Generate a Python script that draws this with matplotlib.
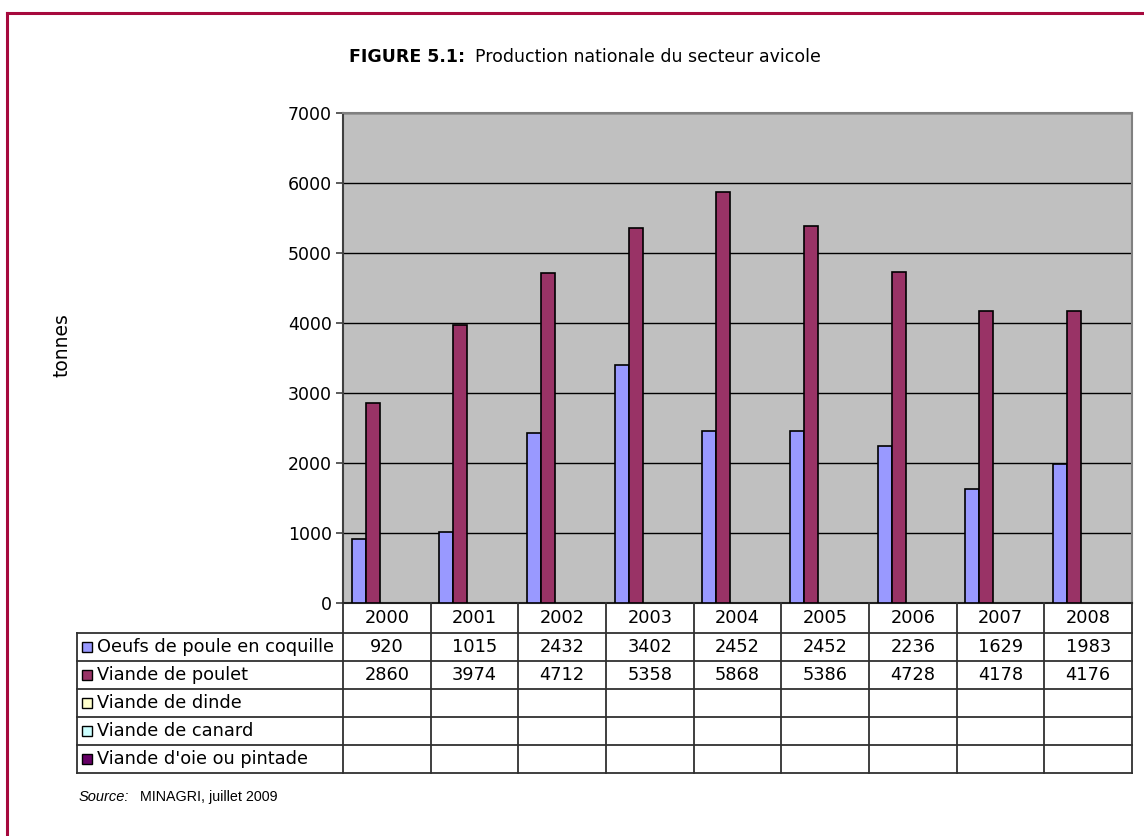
import matplotlib
matplotlib.use("Agg")
import matplotlib.pyplot as plt
from matplotlib.patches import Rectangle
from matplotlib.lines import Line2D
from matplotlib.transforms import blended_transform_factory

# ---- data ----
years = ["2000", "2001", "2002", "2003", "2004", "2005", "2006", "2007", "2008"]
series_names = [
    "Oeufs de poule en coquille",
    "Viande de poulet",
    "Viande de dinde",
    "Viande de canard",
    "Viande d'oie ou pintade",
]
oeufs = [920, 1015, 2432, 3402, 2452, 2452, 2236, 1629, 1983]
poulet = [2860, 3974, 4712, 5358, 5868, 5386, 4728, 4178, 4176]
dinde = [None] * 9
canard = [None] * 9
oie = [None] * 9
series_values = [oeufs, poulet, dinde, canard, oie]
series_colors = ["#9999FF", "#993366", "#FFFFCC", "#CCFFFF", "#660066"]
y_ticks = [0, 1000, 2000, 3000, 4000, 5000, 6000, 7000]

W, H = 1144, 836
fig = plt.figure(figsize=(W / 100, H / 100), dpi=100)
fig.patch.set_facecolor("white")


def fx(x):
    return x / W


def fy(y):
    return 1 - y / H


# frame around the figure (top and left edges)
fig.add_artist(Line2D([fx(7), fx(W)], [fy(13), fy(13)], color="#A6093D", lw=2.2,
                      transform=fig.transFigure))
fig.add_artist(Line2D([fx(7), fx(7)], [fy(13), fy(H)], color="#A6093D", lw=2.2,
                      transform=fig.transFigure))

# plot area
L, R, T, B = 343, 1132, 113, 603
ax = fig.add_axes([fx(L), fy(B), fx(R) - fx(L), fy(T) - fy(B)])
ax.set_facecolor("#C0C0C0")
n = len(years)
ax.set_xlim(0, n)
ax.set_ylim(0, 7000)

n_series = len(series_values)
gap = 0.2
bw = (1 - gap) / n_series
for j, (vals, col) in enumerate(zip(series_values, series_colors)):
    xs, hs = [], []
    for i, v in enumerate(vals):
        if v is not None:
            xs.append(i + gap / 2 + bw * (j + 0.5))
            hs.append(v)
    if xs:
        ax.bar(xs, hs, width=bw, color=col, edgecolor="black", linewidth=1.2, zorder=3)

ax.set_yticks(y_ticks)
ax.set_yticklabels([str(t) for t in y_ticks], fontsize=12.5)
ax.yaxis.grid(True, color="black", linewidth=1.0, zorder=1)
ax.set_axisbelow(True)
ax.tick_params(axis="y", direction="out", length=5, width=1.2, color="#404040", pad=3)
ax.tick_params(axis="x", length=0, labelbottom=False)
ax.set_xticks([])
for side in ["top", "right"]:
    ax.spines[side].set_color("#808080")
    ax.spines[side].set_linewidth(1.5)
ax.spines["left"].set_color("#404040")
ax.spines["left"].set_linewidth(1.5)
ax.spines["bottom"].set_color("#202020")
ax.spines["bottom"].set_linewidth(1.5)

# y-axis title
fig.text(fx(62), fy(345), "tonnes", rotation=90, fontsize=13.5, ha="center", va="center")

# ---- data table below the plot ----
tr = blended_transform_factory(ax.transData, fig.transFigure)
tf = fig.transFigure
line_col = "#303030"
row_top = [603, 633, 661, 689, 717, 745]
row_bot = [633, 661, 689, 717, 745, 773]
tab_left = 77
tab_fs = 12.8

# header row with years
for i, yr in enumerate(years):
    t = fig.text(0, fy(618), yr, transform=tr, fontsize=tab_fs, ha="center", va="center")
    t.set_x(i + 0.5)
# vertical category separators
for i in range(n + 1):
    fig.add_artist(Line2D([i, i], [fy(603), fy(773)], color=line_col, lw=1.3, transform=tr))
# left border of the label column
fig.add_artist(Line2D([fx(tab_left), fx(tab_left)], [fy(633), fy(773)], color=line_col,
                      lw=1.3, transform=tf))
# horizontal row lines
for y in [633, 661, 689, 717, 745, 773]:
    fig.add_artist(Line2D([fx(tab_left), fx(R)], [fy(y), fy(y)], color=line_col, lw=1.3,
                          transform=tf))

# rows: legend key, series name, values
for k, (name, vals, col) in enumerate(zip(series_names, series_values, series_colors)):
    yc = (row_top[k + 1] + row_bot[k + 1]) / 2
    fig.add_artist(Rectangle((fx(82), fy(yc + 5)), fx(10), 10 / H, facecolor=col,
                             edgecolor="black", lw=1.0, transform=tf))
    fig.text(fx(97), fy(yc), name, fontsize=tab_fs, ha="left", va="center")
    for i, v in enumerate(vals):
        if v is not None:
            t = fig.text(0, fy(yc), str(v), transform=tr, fontsize=tab_fs, ha="center",
                         va="center")
            t.set_x(i + 0.5)

# title
fig.text(fx(349), fy(57), "FIGURE 5.1:", fontsize=12.5, fontweight="bold", ha="left",
         va="center")
fig.text(fx(475), fy(57), "Production nationale du secteur avicole", fontsize=12.5,
         ha="left", va="center")

# source line
fig.text(fx(79), fy(797), "Source:", fontsize=10.5, style="italic", family="Liberation Sans",
         ha="left", va="center")
fig.text(fx(140), fy(797), "MINAGRI, juillet 2009", fontsize=10.3, family="Liberation Sans",
         ha="left", va="center")

fig.savefig("out.png", dpi=100, facecolor="white")
